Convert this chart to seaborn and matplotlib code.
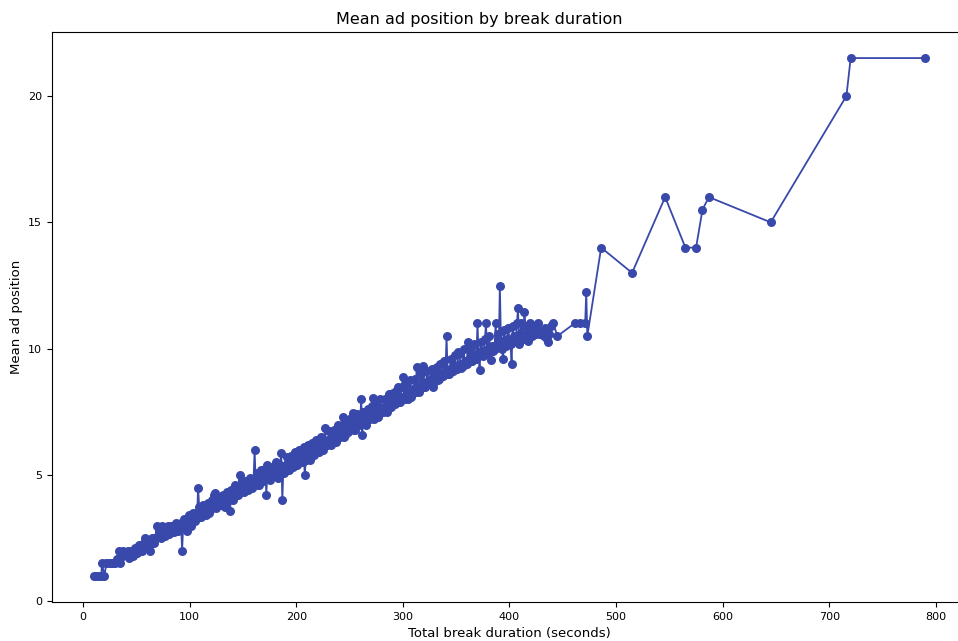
import matplotlib
matplotlib.use("Agg")
import matplotlib.pyplot as plt
import seaborn as sns
import pandas as pd

# Total break duration (seconds) and the mean position of ads within breaks of that length
duration = [
    10, 12, 15, 17, 18, 20, 22, 24, 26, 28,
    30, 32, 34, 35, 36, 38, 40, 42, 44, 46,
    48, 50, 52, 54, 56, 58, 60, 62, 64, 66,
    68, 69, 70, 72, 74, 76, 78, 80, 82, 84,
    86, 88, 90, 92, 93, 94, 96, 98, 100, 102,
    104, 106, 107, 108, 110, 112, 114, 116, 118, 120,
    122, 123, 124, 126, 128, 130, 132, 134, 136, 138,
    140, 142, 144, 146, 147, 148, 150, 152, 154, 156,
    158, 160, 161, 162, 164, 166, 168, 170, 172, 173,
    174, 176, 178, 180, 182, 184, 186, 187, 188, 190,
    192, 194, 196, 198, 200, 202, 204, 206, 208, 210,
    212, 214, 216, 218, 220, 222, 224, 226, 227, 228,
    230, 232, 234, 236, 238, 240, 242, 244, 246, 248,
    250, 252, 253, 254, 256, 258, 260, 261, 262, 264,
    266, 268, 270, 272, 274, 276, 278, 280, 282, 284,
    286, 288, 290, 292, 294, 296, 298, 300, 302, 304,
    306, 308, 310, 312, 313, 314, 316, 318, 319, 320,
    322, 324, 326, 328, 330, 332, 334, 336, 338, 340,
    341, 342, 344, 346, 348, 350, 352, 354, 356, 358,
    360, 361, 362, 364, 366, 368, 370, 371, 372, 374,
    376, 378, 380, 382, 383, 384, 386, 387, 388, 390,
    391, 392, 394, 396, 398, 400, 402, 404, 406, 408,
    410, 412, 414, 416, 418, 420, 422, 424, 426, 428,
    430, 432, 436, 441, 445, 461, 466, 471, 472, 473,
    486, 515, 546, 565, 575, 581, 587, 645, 716, 720,
    790,
]
mean_position = [
    1.0, 1.0, 1.0, 1.0, 1.5, 1.0, 1.5, 1.5, 1.5, 1.5,
    1.5, 1.67, 2.0, 1.5, 1.75, 2.0, 1.83, 2.0, 1.8, 1.9,
    2.0, 1.9, 2.0, 2.1, 2.2, 2.5, 2.25, 2.2, 2.33, 2.4,
    2.5, 3.0, 2.6, 2.7, 3.0, 2.7, 2.8, 3.0, 2.9, 2.8,
    3.0, 2.9, 3.0, 3.1, 2.0, 3.0, 3.2, 2.78, 3.25, 3.2,
    3.4, 3.5, 3.3, 4.5, 3.6, 3.4, 3.6, 3.7, 3.5, 3.7,
    3.8, 4.2, 4.3, 3.9, 4.0, 3.8, 4.0, 4.1, 4.2, 3.56,
    4.2, 4.4, 4.3, 4.5, 5.0, 4.6, 4.5, 4.4, 4.6, 4.7,
    4.5, 4.8, 6.0, 4.7, 4.6, 4.9, 4.8, 5.0, 4.2, 5.4,
    5.0, 5.2, 5.1, 5.0, 5.3, 5.2, 5.87, 4.0, 5.3, 5.4,
    5.5, 5.3, 5.6, 5.5, 5.7, 5.6, 5.8, 5.5, 5.0, 5.9,
    5.8, 6.0, 5.9, 6.1, 6.0, 6.2, 6.1, 6.3, 6.86, 6.2,
    6.4, 6.3, 6.5, 6.4, 6.6, 6.5, 6.7, 7.3, 6.6, 6.8,
    6.9, 7.0, 7.45, 6.8, 7.1, 7.0, 7.2, 8.0, 6.6, 7.3,
    7.2, 7.4, 7.3, 8.05, 7.5, 7.4, 7.6, 7.5, 7.7, 7.6,
    7.8, 7.7, 7.9, 8.0, 8.34, 7.9, 8.1, 8.88, 8.0, 8.2,
    8.3, 8.1, 8.4, 8.3, 9.28, 8.5, 8.4, 8.6, 9.3, 8.5,
    8.7, 8.6, 8.8, 8.5, 8.9, 9.27, 8.8, 9.0, 8.9, 9.1,
    10.5, 9.0, 9.2, 9.1, 9.3, 9.2, 9.86, 9.4, 9.3, 9.5,
    9.4, 10.27, 9.6, 9.5, 9.7, 9.6, 11.0, 9.8, 9.15, 9.9,
    9.8, 11.0, 10.0, 9.9, 9.55, 10.1, 10.0, 11.0, 10.2, 10.1,
    12.5, 10.3, 9.6, 10.2, 10.4, 10.3, 9.4, 10.5, 10.4, 11.6,
    10.6, 10.5, 11.45, 10.6, 10.7, 10.7, 10.6, 10.8, 10.7, 10.7,
    10.6, 10.5, 10.25, 11.0, 10.5, 11.0, 11.0, 11.0, 12.25, 10.5,
    14.0, 13.0, 16.0, 14.0, 14.0, 15.5, 16.0, 15.0, 20.0, 21.5,
    21.5,
]

# Additional break lengths (odd seconds) in the busy 40-440 s range
duration_odd = [
    41, 43, 45, 47, 49, 51, 53, 55, 57, 59,
    61, 63, 65, 67, 71, 73, 75, 77, 79, 81,
    83, 85, 87, 89, 91, 95, 97, 99, 101, 103,
    105, 109, 111, 113, 115, 117, 119, 121, 125, 127,
    129, 131, 133, 135, 137, 139, 141, 143, 145, 149,
    151, 153, 155, 157, 159, 163, 165, 167, 169, 171,
    175, 177, 179, 181, 183, 185, 189, 191, 193, 195,
    197, 199, 201, 203, 205, 207, 209, 211, 213, 215,
    217, 219, 221, 223, 225, 229, 231, 233, 235, 237,
    239, 241, 243, 245, 247, 249, 251, 255, 257, 259,
    263, 265, 267, 269, 271, 273, 275, 277, 279, 281,
    283, 285, 287, 289, 291, 293, 295, 297, 299, 301,
    303, 305, 307, 309, 311, 315, 317, 321, 323, 325,
    327, 329, 331, 333, 335, 337, 339, 343, 345, 347,
    349, 351, 353, 355, 357, 359, 363, 365, 367, 369,
    373, 375, 377, 379, 381, 385, 389, 393, 395, 397,
    399, 401, 403, 405, 407, 409, 411, 413, 415, 417,
    419, 421, 423, 425, 427, 429, 431, 433, 435, 437,
    439,
]
mean_position_odd = [
    1.9, 1.7, 2.0, 1.8, 2.1, 1.9, 2.25, 2.0, 2.33, 2.1,
    2.4, 2.0, 2.5, 2.3, 2.75, 2.5, 2.8, 2.6, 2.9, 2.67,
    3.0, 2.75, 3.1, 2.8, 3.0, 3.25, 3.0, 3.4, 3.0, 3.5,
    3.2, 3.75, 3.33, 3.8, 3.4, 3.9, 3.6, 4.0, 3.7, 4.1,
    3.8, 4.2, 3.75, 4.33, 4.0, 4.4, 4.0, 4.6, 4.2, 4.8,
    4.33, 4.75, 4.4, 4.9, 4.5, 5.1, 4.6, 5.2, 4.75, 5.25,
    4.8, 5.33, 5.0, 5.5, 4.9, 5.4, 5.1, 5.7, 5.2, 5.75,
    5.3, 5.9, 5.4, 6.0, 5.5, 6.1, 5.6, 6.2, 5.6, 6.25,
    5.8, 6.4, 5.9, 6.5, 6.0, 6.2, 6.75, 6.2, 6.8, 6.3,
    7.0, 6.5, 7.0, 6.5, 7.1, 6.7, 7.25, 6.8, 7.4, 7.0,
    7.5, 7.0, 7.6, 7.2, 7.75, 7.2, 7.8, 7.3, 8.0, 7.5,
    8.0, 7.5, 8.2, 7.7, 8.25, 7.8, 8.5, 7.9, 8.5, 8.0,
    8.6, 8.0, 8.75, 8.2, 8.8, 8.3, 9.0, 8.5, 9.1, 8.6,
    9.2, 8.7, 9.25, 8.75, 9.4, 8.9, 9.5, 9.0, 9.6, 9.1,
    9.75, 9.2, 9.8, 9.25, 10.0, 9.4, 10.0, 9.5, 10.2, 9.6,
    10.25, 9.7, 10.4, 9.8, 10.5, 9.9, 10.6, 10.0, 10.75, 10.1,
    10.8, 10.2, 10.9, 10.3, 11.0, 10.2, 11.0, 10.4, 10.9, 10.3,
    11.0, 10.5, 10.9, 10.6, 11.0, 10.6, 10.75, 10.8, 10.4, 10.6,
    10.9,
]

line_color = "#3949AB"

df = pd.concat([
    pd.DataFrame({"duration": duration, "mean_position": mean_position}),
    pd.DataFrame({"duration": duration_odd, "mean_position": mean_position_odd}),
], ignore_index=True)

fig = plt.figure(figsize=(9.58, 6.41), dpi=100)
ax = fig.add_axes([0.0543, 0.0608, 0.955, 0.889])

sns.lineplot(
    data=df, x="duration", y="mean_position", ax=ax,
    color=line_color, marker="o", markersize=6.5,
    markeredgecolor=line_color, markeredgewidth=0,
    linewidth=1.3, estimator=None, sort=True,
)

# title centred on the figure width rather than the (wider) axes
ax.set_title("Mean ad position by break duration", fontsize=11.5, x=0.467)
ax.set_xlabel("Total break duration (seconds)", fontsize=9.5)
ax.set_ylabel("Mean ad position", fontsize=9.5)
ax.set_xticks([0, 100, 200, 300, 400, 500, 600, 700, 800])
ax.set_yticks([0, 5, 10, 15, 20])
ax.tick_params(labelsize=8)

fig.savefig("out.png", dpi=100)
